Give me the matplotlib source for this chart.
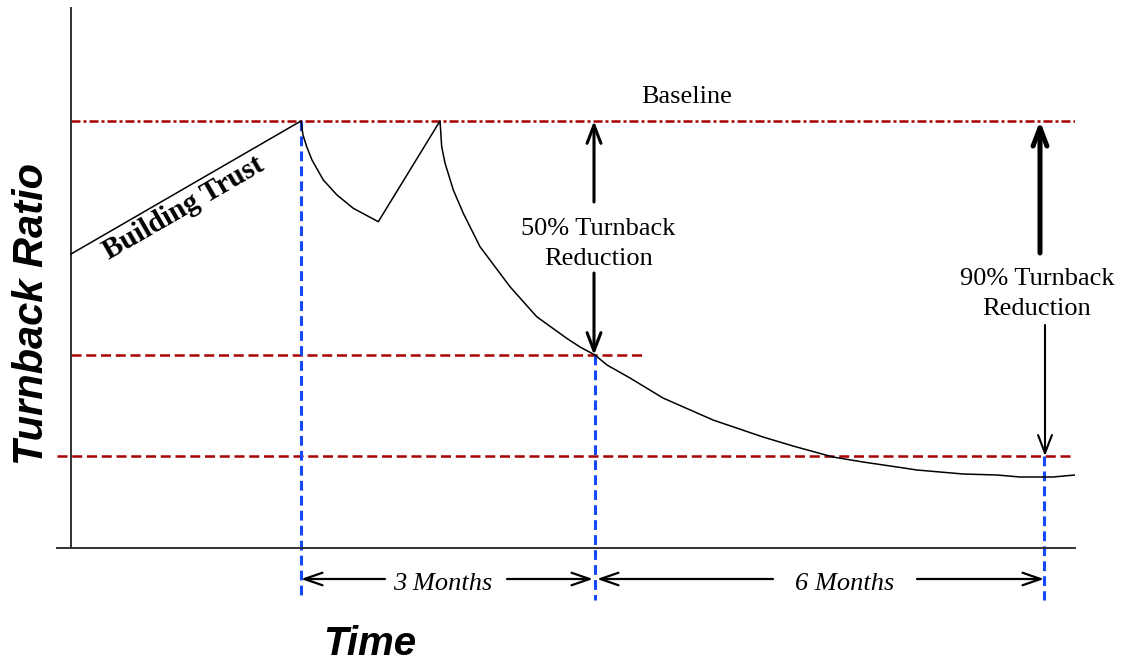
import matplotlib
matplotlib.use("Agg")
import matplotlib.pyplot as plt

# --- schematic data (arbitrary time / ratio units) ---------------------------
# turnback ratio over time: trust build-up, first dip, relapse, long decay
time_pts = [0, 230, 232, 235.7, 241, 252.3, 266, 282.3, 307.3,
            369, 370.7, 374, 382.3, 392.3, 409, 439, 465.7, 495.7, 509,
            524, 536, 559, 592, 642, 692, 722, 762, 792, 826, 846, 892,
            926, 949, 982, 1004]
ratio_pts = [294, 427, 413, 401.3, 388, 368, 353, 339.7, 326.3,
             427, 401.3, 385, 358, 334.7, 301.3, 261.3, 231.3, 209.7, 201,
             193, 183, 170, 150, 128, 111, 102, 91, 86, 81, 78, 74,
             73, 71, 71, 73]

baseline_level = 427
level_50 = 193
level_90 = 92

t_program_start = 230
t_three_months = 524
t_nine_months = 973

x_min, x_max = -14, 1004
y_max = 540

RED = "#a80000"
BLUE = "#1449f5"
SERIF = "Liberation Serif"
SANS = "Liberation Sans"

fig = plt.figure(figsize=(11.22, 6.64), dpi=100)
ax = fig.add_axes([57 / 1122, 116 / 664, 1018 / 1122, 540 / 664])
ax.set_xlim(x_min, x_max)
ax.set_ylim(0, y_max)
ax.set_xticks([])
ax.set_yticks([])
for side in ("top", "right"):
    ax.spines[side].set_visible(False)
ax.spines["left"].set_position(("data", 0))
for side in ("left", "bottom"):
    ax.spines[side].set_color("#333333")
    ax.spines[side].set_linewidth(1.4)

# reference levels
ax.plot([0, x_max], [baseline_level] * 2, color=RED, lw=1.8,
        dashes=(3.6, 1.2, 1.2, 1.2), zorder=2)
ax.plot([0, 574], [level_50] * 2, color=RED, lw=1.8, dashes=(4.0, 1.9), zorder=2)
ax.plot([x_min, 1002], [level_90] * 2, color=RED, lw=1.8, dashes=(4.0, 1.9),
        zorder=2)

# milestone markers
for t, top in ((t_program_start, baseline_level), (t_three_months, level_50),
               (t_nine_months, level_90)):
    ax.plot([t, t], [top, -52], color=BLUE, lw=2.2, dashes=(3.2, 1.7),
            clip_on=False, zorder=2)

# turnback curve
ax.plot(time_pts, ratio_pts, color="black", lw=1.1, zorder=3,
        solid_joinstyle="round")


def arrow(x0, y0, x1, y1, lw, hl=1.3, hw=0.5):
    ax.annotate("", xy=(x1, y1), xytext=(x0, y0), annotation_clip=False,
                arrowprops=dict(arrowstyle=f"->,head_length={hl},head_width={hw}",
                                lw=lw, color="black", shrinkA=0, shrinkB=0,
                                mutation_scale=10), zorder=4)


# reduction arrows
arrow(523, 346, 523, baseline_level, 2.2)
arrow(523, 275, 523, level_50, 2.2)
arrow(969, 295, 969, baseline_level, 3.6)
arrow(974, 223, 974, level_90, 1.5)

# duration arrows
y_dur = -31
arrow(314, y_dur, t_program_start, y_dur, 1.6, 1.3, 0.45)
arrow(436, y_dur, t_three_months - 2, y_dur, 1.6, 1.3, 0.45)
arrow(702, y_dur, t_three_months + 2, y_dur, 1.6, 1.3, 0.45)
arrow(846, y_dur, t_nine_months, y_dur, 1.6, 1.3, 0.45)

# annotations
ax.text(616, 445, "Baseline", family=SERIF, fontsize=19, ha="center",
        va="baseline")
ax.text(527.5, 313, "50% Turnback", family=SERIF, fontsize=19, ha="center",
        va="baseline")
ax.text(527.5, 283, "Reduction", family=SERIF, fontsize=19, ha="center",
        va="baseline")
ax.text(966, 263, "90% Turnback", family=SERIF, fontsize=19, ha="center",
        va="baseline")
ax.text(966, 233, "Reduction", family=SERIF, fontsize=19, ha="center",
        va="baseline")
ax.text(372, -42, "3 Months", family=SERIF, style="italic", fontsize=19,
        ha="center", va="baseline", clip_on=False)
ax.text(773.5, -42, "6 Months", family=SERIF, style="italic", fontsize=19,
        ha="center", va="baseline", clip_on=False)
ax.text(113, 340, "Building Trust", family=SERIF, weight="bold", fontsize=21,
        rotation=30, rotation_mode="anchor", ha="center", va="center")

# axis titles
ax.text(299, -107, "Time", family=SANS, weight="bold", style="italic",
        fontsize=29, ha="center", va="baseline", clip_on=False)
ax.text(-28, 234, "Turnback Ratio", family=SANS, weight="bold", style="italic",
        fontsize=30, rotation=90, rotation_mode="anchor", ha="center",
        va="baseline", clip_on=False)

fig.savefig("out.png", dpi=100, facecolor="white")
